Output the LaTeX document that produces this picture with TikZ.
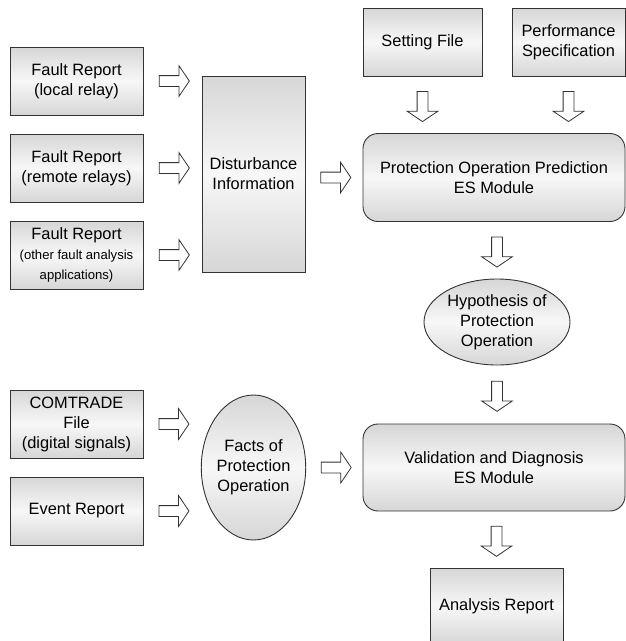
\documentclass[tikz,border=0pt]{standalone}
\usepackage{fontspec}
\setmainfont{Liberation Sans}
\usetikzlibrary{shapes.geometric,shapes.arrows,calc}

\newcommand{\smalltxt}{\fontsize{13.1}{17}\selectfont}

\begin{document}
\begin{tikzpicture}[
    x=1pt, y=-1pt,
    font=\fontsize{16.4}{20}\selectfont,
    box/.style={rectangle, draw=black!80, line width=0.9pt, top color=black!16, bottom color=black!16, middle color=black!3, align=center, inner sep=2pt, minimum width=133pt, minimum height=68pt},
    module/.style={box, rounded corners=15pt, minimum width=262pt, minimum height=88pt},
    oval/.style={ellipse, draw=black!80, line width=0.9pt, top color=black!16, bottom color=black!16, middle color=black!3, align=center, inner sep=0pt},
    rarrow/.style={single arrow, draw=black!80, fill=white, line width=0.8pt, minimum height=30pt, inner sep=5pt, single arrow head extend=10pt, single arrow tip angle=112},
    darrow/.style={rarrow, shape border rotate=270}
]
\clip (0,0) rectangle (626,641);

% inputs
\node[box] (local) at (76.5,81) {Fault Report\\(local relay)};
\node[box] (remote) at (76.5,168) {Fault Report\\(remote relays)};
\node[box] (other) at (76.5,255) {Fault Report\\{\smalltxt(other fault analysis}\\{\smalltxt applications)}};
\node[box] (comtrade) at (76.5,424) {COMTRADE\\File\\(digital signals)};
\node[box] (event) at (76.5,511) {Event Report};

\node[box, minimum width=103pt, minimum height=196pt] (disturb) at (253.5,174) {Disturbance\\Information};
\node[oval, minimum width=103pt, minimum height=145pt] (facts) at (253.5,467.5) {Facts of\\Protection\\Operation};

\node[box, minimum width=119pt] (setting) at (422.5,42) {Setting File};
\node[box, minimum width=113pt] (perf) at (568.5,42) {Performance\\Specification};

% modules
\node[module] (predict) at (494,177.5) {Protection Operation Prediction\\ES Module};
\node[oval, minimum width=146pt, minimum height=86pt] (hypo) at (497,322) {Hypothesis of\\Protection\\Operation};
\node[module, minimum height=87pt] (valid) at (494,467.5) {Validation and Diagnosis\\ES Module};
\node[box, minimum height=76pt] (report) at (496.5,606) {Analysis Report};

% block arrows
\node[rarrow] (a1) at ($(local.east)!.5!(local.east -| disturb.west)$) {};
\node[rarrow] (a2) at ($(remote.east)!.5!(remote.east -| disturb.west)$) {};
\node[rarrow] (a3) at ($(other.east)!.5!(other.east -| disturb.west)$) {};
\node[rarrow] (a4) at ($(comtrade.east)!.5!(comtrade.east -| facts.west)$) {};
\node[rarrow] (a5) at ($(event.east)!.5!(event.east -| facts.west)$) {};
\node[rarrow] (a6) at ($(disturb.east |- predict.west)!.5!(predict.west)$) {};
\node[rarrow] (a7) at ($(facts.east |- valid.west)!.5!(valid.west)$) {};

\node[darrow] (d1) at ($(setting.south)!.5!(setting.south |- predict.north)$) {};
\node[darrow] (d2) at ($(perf.south)!.5!(perf.south |- predict.north)$) {};
\node[darrow] (d3) at ($(predict.south -| hypo.north)!.5!(hypo.north)$) {};
\node[darrow] (d4) at ($(hypo.south)!.5!(hypo.south |- valid.north)$) {};
\node[darrow] (d5) at ($(valid.south -| report.north)!.5!(report.north)$) {};
\end{tikzpicture}
\end{document}
